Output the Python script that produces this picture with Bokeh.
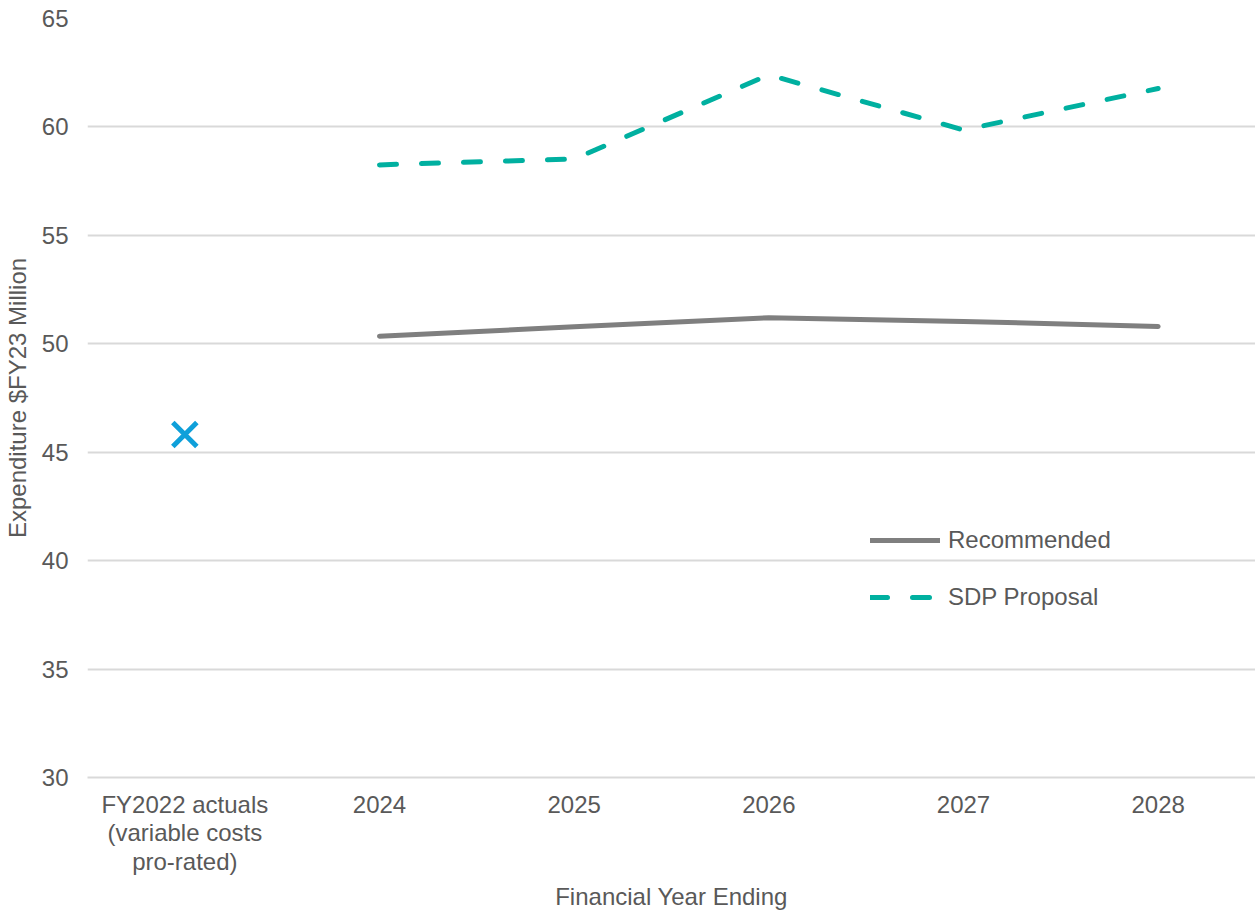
from bokeh.plotting import figure
from bokeh.models import FactorRange, Range1d, FixedTicker, Legend, LegendItem
from bokeh.embed import file_html
from bokeh.resources import INLINE

# ---- data ----
categories = ["FY2022", "2024", "2025", "2026", "2027", "2028"]
category_labels = {"FY2022": "FY2022 actuals\n(variable costs\npro-rated)"}
years = ["2024", "2025", "2026", "2027", "2028"]
recommended = [50.35, 50.78, 51.20, 51.03, 50.80]
sdp_proposal = [58.25, 58.52, 62.40, 59.86, 61.77]
actual_cat = ["FY2022"]
actual_val = [45.82]
y_ticks = [30, 35, 40, 45, 50, 55, 60, 65]

factors = [category_labels.get(c, c) for c in categories]
actual_factor = [category_labels.get(c, c) for c in actual_cat]

FONT = "Liberation Sans"
TXT = "#595959"
GRID = "#d9d9d9"

p = figure(width=1255, height=915, output_backend="svg", toolbar_location=None,
           x_range=FactorRange(factors=factors, range_padding=0),
           y_range=Range1d(30, 65),
           min_border_left=87, min_border_right=0, min_border_top=18, min_border_bottom=138)
p.outline_line_color = None
p.background_fill_color = "white"
p.border_fill_color = "white"

# grid
p.xgrid.grid_line_color = None
p.ygrid.grid_line_color = GRID
p.ygrid.grid_line_width = 2

# y axis
p.yaxis.ticker = FixedTicker(ticks=y_ticks)
p.yaxis.axis_line_color = None
p.yaxis.major_tick_line_color = None
p.yaxis.minor_tick_line_color = None
p.yaxis.major_tick_out = 0
p.yaxis.major_label_standoff = 19
p.yaxis.major_label_text_font = FONT
p.yaxis.major_label_text_font_size = "24px"
p.yaxis.major_label_text_color = TXT
p.yaxis.axis_label = "Expenditure $FY23 Million"
p.yaxis.axis_label_text_font = FONT
p.yaxis.axis_label_text_font_size = "24px"
p.yaxis.axis_label_text_font_style = "normal"
p.yaxis.axis_label_text_color = TXT
p.yaxis.axis_label_standoff = 8

# x axis
p.xaxis.axis_line_color = GRID
p.xaxis.axis_line_width = 2
p.xaxis.major_tick_line_color = None
p.xaxis.minor_tick_line_color = None
p.xaxis.major_tick_out = 0
p.xaxis.major_label_standoff = 13
p.xaxis.major_label_text_font = FONT
p.xaxis.major_label_text_font_size = "24px"
p.xaxis.major_label_text_line_height = 1.07
p.xaxis.major_label_text_color = TXT
p.xaxis.axis_label = "Financial Year Ending"
p.xaxis.axis_label_text_font = FONT
p.xaxis.axis_label_text_font_size = "24px"
p.xaxis.axis_label_text_font_style = "normal"
p.xaxis.axis_label_text_color = TXT
p.xaxis.axis_label_standoff = 5

r_rec = p.line(years, recommended, line_color="#7f7f7f", line_width=5, line_cap="round")
r_sdp = p.line(years, sdp_proposal, line_color="#00b0a0", line_width=5, line_cap="round",
               line_dash="17 25")
p.scatter(actual_factor, actual_val, marker="x", size=34, line_color="#0fa0da", line_width=5)

legend = Legend(items=[LegendItem(label="Recommended", renderers=[r_rec]),
                       LegendItem(label="SDP Proposal", renderers=[r_sdp])],
                location=(783, 165), orientation="vertical",
                glyph_width=70, glyph_height=30, label_height=30, spacing=27,
                label_standoff=8, padding=0, margin=0,
                border_line_color=None, background_fill_alpha=0,
                label_text_font=FONT, label_text_font_size="24px", label_text_color=TXT)
p.add_layout(legend, "center")

open("out.html", "w").write(file_html(p, INLINE))
